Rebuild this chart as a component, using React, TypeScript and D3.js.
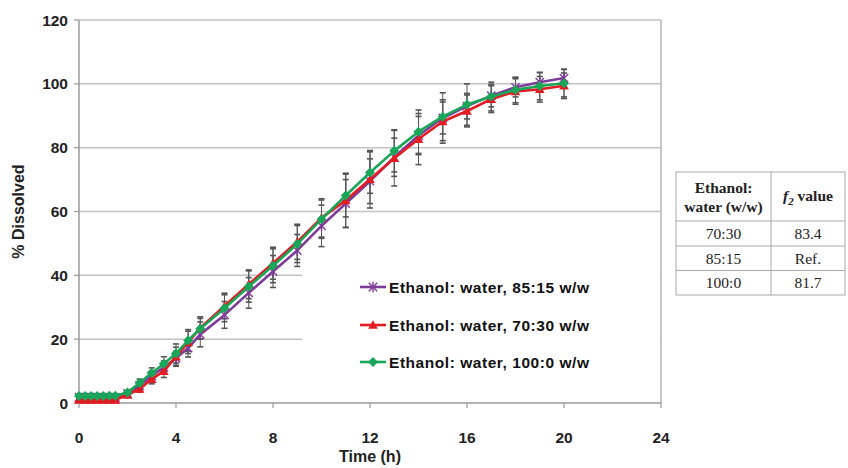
import React from "react";
import * as d3 from "d3";

// Sampling times (h)
const times = [0, 0.25, 0.5, 0.75, 1, 1.25, 1.5, 2, 2.5, 3, 3.5, 4, 4.5, 5, 6, 7, 8, 9, 10, 11, 12, 13, 14, 15, 16, 17, 18, 19, 20];

// Mean % dissolved and standard deviations per medium
const ratio85_15 = [1.8, 1.8, 1.8, 1.8, 1.8, 1.8, 1.8, 3.0, 5.5, 8.5, 11.2, 14.0, 17.2, 21.5, 27.6, 34.5, 41.2, 47.8, 55.5, 62.5, 69.5, 77.0, 83.8, 89.3, 93.0, 96.3, 98.9, 100.5, 101.8];
const sd85_15 = [0.4, 0.4, 0.4, 0.4, 0.4, 0.4, 0.4, 0.6, 1.2, 1.6, 2.0, 2.2, 2.8, 3.9, 4.2, 4.8, 5.0, 5.0, 6.5, 7.5, 7.0, 6.0, 6.0, 5.0, 4.0, 3.5, 3.0, 3.0, 2.8];

const ratio70_30 = [1.0, 1.0, 1.0, 1.0, 1.0, 1.0, 1.0, 2.5, 4.4, 7.5, 10.0, 14.5, 19.0, 23.5, 30.4, 37.2, 43.8, 50.5, 58.0, 63.5, 70.1, 76.7, 82.7, 88.2, 91.5, 95.2, 97.6, 98.3, 99.4];
const sd70_30 = [0.3, 0.3, 0.3, 0.3, 0.3, 0.3, 0.3, 0.5, 1.0, 1.5, 2.0, 3.0, 3.5, 3.5, 4.0, 4.5, 5.0, 5.5, 6.0, 8.5, 9.0, 8.7, 8.0, 6.8, 5.0, 4.2, 4.0, 4.0, 4.0];

const ratio100_0 = [2.2, 2.2, 2.2, 2.2, 2.2, 2.3, 2.3, 3.3, 6.3, 9.4, 12.3, 15.5, 19.6, 23.3, 29.7, 36.5, 43.0, 49.8, 57.6, 65.0, 72.2, 79.0, 85.0, 89.7, 93.5, 96.0, 98.1, 99.3, 100.2];
const sd100_0 = [0.4, 0.4, 0.4, 0.4, 0.4, 0.4, 0.4, 0.6, 1.2, 1.6, 2.2, 3.0, 3.4, 3.2, 4.2, 4.9, 5.3, 5.8, 6.0, 6.7, 6.5, 6.6, 6.8, 7.5, 6.5, 4.5, 4.0, 4.3, 4.3];

const seriesLabels = ["Ethanol: water, 85:15 w/w", "Ethanol: water, 70:30 w/w", "Ethanol: water, 100:0 w/w"];
const seriesColors = ["#7d3c98", "#e31b23", "#1aa658"];
const seriesMarkers = ["star", "triangle", "diamond"];

const xTicks = [0, 4, 8, 12, 16, 20, 24];
const yTicks = [0, 20, 40, 60, 80, 100, 120];

// f2 similarity table
const tableRatios = ["70:30", "85:15", "100:0"];
const tableF2 = ["83.4", "Ref.", "81.7"];

const SANS = "'Liberation Sans', Arial, sans-serif";
const SERIF = "'Liberation Serif', 'Times New Roman', serif";

function Marker({ kind, x, y, color }: { kind: string; x: number; y: number; color: string }) {
  if (kind === "diamond") {
    const s = 5;
    return <path d={`M${x},${y - s}L${x + s},${y}L${x},${y + s}L${x - s},${y}Z`} fill={color} />;
  }
  if (kind === "triangle") {
    const s = 4.8;
    return <path d={`M${x},${y - s}L${x + s},${y + s * 0.8}L${x - s},${y + s * 0.8}Z`} fill={color} />;
  }
  const s = 4.2;
  return (
    <g stroke={color} strokeWidth={1.4}>
      <line x1={x - s} y1={y - s} x2={x + s} y2={y + s} />
      <line x1={x - s} y1={y + s} x2={x + s} y2={y - s} />
      <line x1={x} y1={y - s - 1} x2={x} y2={y + s + 1} />
    </g>
  );
}

export default function App() {
  const x = d3.scaleLinear().domain([0, 24]).range([79, 661]);
  const y = d3.scaleLinear().domain([0, 120]).range([403, 20]);

  const means = [ratio85_15, ratio70_30, ratio100_0];
  const sds = [sd85_15, sd70_30, sd100_0];

  const line = d3
    .line<number>()
    .x((_, i) => x(times[i]))
    .y((d) => y(d));

  const legendBox = { x: 302, y: 262, w: 358, h: 128 };
  const legendRows = [287, 325, 362];

  const tbl = { x: 676, y: 172, w: 169, div: 771, rows: [221, 246, 270.5, 295] };
  const c1 = (tbl.x + tbl.div) / 2;
  const c2 = (tbl.div + tbl.x + tbl.w) / 2;

  return (
    <svg
      width={848}
      height={468}
      style={{ position: "absolute", left: 0, top: 0, background: "#fff" }}
      fontFamily={SANS}
    >
      {/* gridlines */}
      {yTicks.slice(1).map((t) => (
        <line key={`g${t}`} x1={x(0)} x2={x(24)} y1={y(t)} y2={y(t)} stroke="#c2c2c2" strokeWidth={1.5} />
      ))}
      {/* plot frame */}
      <line x1={x(24)} x2={x(24)} y1={y(120)} y2={y(0)} stroke="#b5b5b5" strokeWidth={1.5} />
      <line x1={x(0)} x2={x(0)} y1={y(120)} y2={y(0)} stroke="#9a9a9a" strokeWidth={1.5} />
      <line x1={x(0)} x2={x(24)} y1={y(0)} y2={y(0)} stroke="#9a9a9a" strokeWidth={1.5} />
      {yTicks.map((t) => (
        <line key={`yt${t}`} x1={x(0) - 5} x2={x(0)} y1={y(t)} y2={y(t)} stroke="#9a9a9a" strokeWidth={1.2} />
      ))}
      {xTicks.map((t) => (
        <line key={`xt${t}`} x1={x(t)} x2={x(t)} y1={y(0)} y2={y(0) + 5} stroke="#9a9a9a" strokeWidth={1.2} />
      ))}

      {/* legend background covers the gridlines behind it */}
      <rect x={legendBox.x} y={legendBox.y} width={legendBox.w} height={legendBox.h} fill="#fff" />

      {/* error bars */}
      {means.map((m, si) => (
        <g key={`eb${si}`} stroke="#555" strokeWidth={1}>
          {m.map((v, i) => {
            const cx = x(times[i]);
            const top = y(v + sds[si][i]);
            const bot = y(v - sds[si][i]);
            return (
              <g key={i}>
                <line x1={cx} x2={cx} y1={top} y2={bot} />
                <line x1={cx - 3} x2={cx + 3} y1={top} y2={top} strokeWidth={1.6} />
                <line x1={cx - 3} x2={cx + 3} y1={bot} y2={bot} strokeWidth={1.6} />
              </g>
            );
          })}
        </g>
      ))}

      {/* series lines and markers */}
      {means.map((m, si) => (
        <g key={`s${si}`}>
          <path d={line(m) || ""} fill="none" stroke={seriesColors[si]} strokeWidth={2.6} strokeLinejoin="round" />
          {m.map((v, i) => (
            <Marker key={i} kind={seriesMarkers[si]} x={x(times[i])} y={y(v)} color={seriesColors[si]} />
          ))}
        </g>
      ))}

      {/* axis labels */}
      {yTicks.map((t) => (
        <text key={`yl${t}`} x={68} y={y(t)} dy="0.36em" textAnchor="end" fontSize={15.5} fontWeight="bold" fill="#222">
          {t}
        </text>
      ))}
      {xTicks.map((t) => (
        <text key={`xl${t}`} x={x(t)} y={437} dy="0.36em" textAnchor="middle" fontSize={15.5} fontWeight="bold" fill="#222">
          {t}
        </text>
      ))}
      <text x={370} y={462} textAnchor="middle" fontSize={16} fontWeight="bold" fill="#222">
        Time (h)
      </text>
      <text
        transform={`translate(24,${y(60)}) rotate(-90)`}
        textAnchor="middle"
        fontSize={16}
        fontWeight="bold"
        fill="#222"
      >
        % Dissolved
      </text>

      {/* legend */}
      {seriesLabels.map((lab, i) => (
        <g key={`lg${i}`}>
          <line x1={360} x2={386} y1={legendRows[i]} y2={legendRows[i]} stroke={seriesColors[i]} strokeWidth={2.6} />
          <Marker kind={seriesMarkers[i]} x={373} y={legendRows[i]} color={seriesColors[i]} />
          <text
            x={389}
            y={legendRows[i]}
            dy="0.36em"
            fontSize={15.5}
            fontWeight="bold"
            fill="#111"
            textLength={200}
            lengthAdjust="spacing"
          >
            {lab}
          </text>
        </g>
      ))}

      {/* f2 table */}
      <g fontFamily={SERIF} fill="#222">
        <rect x={tbl.x} y={tbl.y} width={tbl.w} height={tbl.rows[3] - tbl.y} fill="none" stroke="#aaa" strokeWidth={1} />
        <line x1={tbl.div} x2={tbl.div} y1={tbl.y} y2={tbl.rows[3]} stroke="#aaa" strokeWidth={1} />
        {tbl.rows.slice(0, 3).map((r) => (
          <line key={`tr${r}`} x1={tbl.x} x2={tbl.x + tbl.w} y1={r} y2={r} stroke="#aaa" strokeWidth={1} />
        ))}
        <text x={c1} y={188} dy="0.35em" textAnchor="middle" fontSize={15.5} fontWeight="bold">
          Ethanol:
        </text>
        <text x={c1} y={207} dy="0.35em" textAnchor="middle" fontSize={15.5} fontWeight="bold">
          water (w/w)
        </text>
        <text x={c2} y={196} dy="0.35em" textAnchor="middle" fontSize={15.5} fontWeight="bold">
          <tspan fontStyle="italic">f</tspan>
          <tspan fontSize={11} dy="4" fontStyle="italic">2</tspan>
          <tspan dy="-4"> value</tspan>
        </text>
        {tableRatios.map((r, i) => {
          const cy = (tbl.rows[i] + tbl.rows[i + 1]) / 2;
          return (
            <g key={`row${i}`}>
              <text x={c1} y={cy} dy="0.35em" textAnchor="middle" fontSize={15.5}>
                {r}
              </text>
              <text x={c2} y={cy} dy="0.35em" textAnchor="middle" fontSize={15.5}>
                {tableF2[i]}
              </text>
            </g>
          );
        })}
      </g>
    </svg>
  );
}
